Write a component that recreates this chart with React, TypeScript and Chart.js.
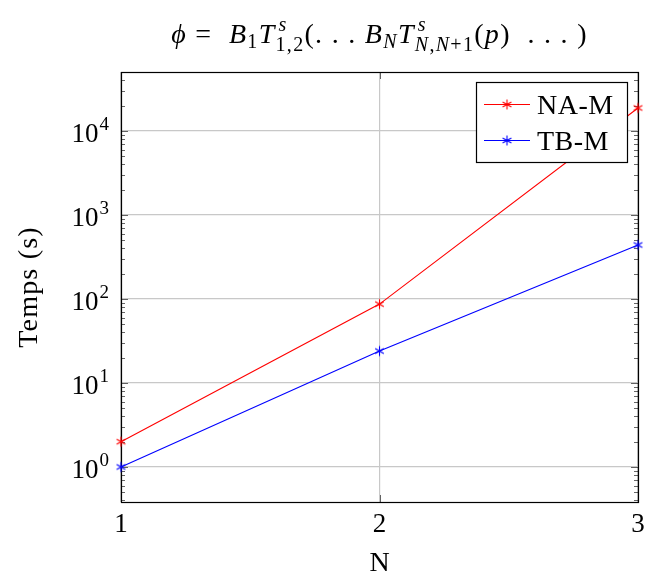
import React, { useEffect, useRef } from 'react';
import { Chart, registerables } from 'chart.js';
Chart.register(...registerables);

// ---- data ----
const N_VALUES = [1, 2, 3];
const NAM_TIMES = [2.0, 87, 18800];
const TBM_TIMES = [1.0, 24, 440];
const SERIES_LABELS = ['NA-M', 'TB-M'];
const SERIES_COLORS = ['#ff0000', '#0000ff'];
const X_TICKS = [1, 2, 3];
const Y_DECADES = [-1, 0, 1, 2, 3, 4];
const Y_MIN = 0.383;
const Y_MAX = 50400;
const X_TITLE = 'N';
const Y_TITLE = 'Temps (s)';

const FONT = '"Liberation Serif", "Times New Roman", serif';
const L = 28;
const S = 20;
const f = (size: number, italic?: boolean) => `${italic ? 'italic ' : ''}${size}px ${FONT}`;

type Seg = { t: string; i?: boolean; sz?: number; dy?: number };
type Item = Seg | { sup: Seg[]; sub: Seg[]; dx?: number };

const TITLE: Item[] = [
  { t: 'ϕ', i: true },
  { t: ' = ' },
  { t: ' B', i: true }, { t: '1', sz: S, dy: 5 },
  { t: 'T', i: true }, { sup: [{ t: 's', i: true }], sub: [{ t: '1,2' }], dx: 3 },
  { t: '(. . . ' },
  { t: 'B', i: true }, { t: 'N', i: true, sz: S, dy: 5 },
  { t: 'T', i: true },
  { sup: [{ t: 's', i: true }], sub: [{ t: 'N', i: true }, { t: ',' }, { t: 'N', i: true }, { t: '+1' }], dx: 3 },
  { t: '(' }, { t: 'p', i: true }, { t: ')  . . . )' },
];

function setLS(ctx: any, v: string) { try { ctx.letterSpacing = v; } catch (e) { /* ignore */ } }

function segsWidth(ctx: CanvasRenderingContext2D, segs: Seg[]) {
  let w = 0;
  for (const s of segs) { ctx.font = f(s.sz || S, s.i); w += ctx.measureText(s.t).width; }
  return w;
}
function drawSegs(ctx: CanvasRenderingContext2D, segs: Seg[], x: number, y: number) {
  for (const s of segs) { ctx.font = f(s.sz || S, s.i); ctx.fillText(s.t, x, y); x += ctx.measureText(s.t).width; }
}
function itemWidth(ctx: CanvasRenderingContext2D, it: Item) {
  if ('sup' in it) return Math.max(segsWidth(ctx, it.sup) + (it.dx || 0), segsWidth(ctx, it.sub));
  ctx.font = f(it.sz || L, it.i);
  return ctx.measureText(it.t).width;
}

function makeStar(color: string) {
  const c = document.createElement('canvas');
  c.width = 13; c.height = 13;
  const g = c.getContext('2d')!;
  g.strokeStyle = color; g.lineWidth = 1.1;
  const r = 5, cx = 6.5, cy = 6.5;
  for (const a of [90, 30, 150]) {
    const rad = (a * Math.PI) / 180;
    g.beginPath();
    g.moveTo(cx - r * Math.cos(rad), cy - r * Math.sin(rad));
    g.lineTo(cx + r * Math.cos(rad), cy + r * Math.sin(rad));
    g.stroke();
  }
  return c;
}

const isDecade = (v: number) => Math.abs(Math.log10(v) - Math.round(Math.log10(v))) < 1e-9;

const customPlugin = {
  id: 'customDraw',
  beforeDatasetsDraw(chart: any) {
    const { ctx, chartArea: a } = chart;
    const xs = chart.scales.x, ys = chart.scales.y;
    ctx.save();
    ctx.strokeStyle = 'rgba(0,0,0,0.6)';
    ctx.lineWidth = 1;
    for (const t of ys.ticks) {
      const y = Math.round(ys.getPixelForValue(t.value)) + 0.5;
      const len = isDecade(t.value) ? 7 : 4;
      ctx.beginPath();
      ctx.moveTo(a.left, y); ctx.lineTo(a.left + len, y);
      ctx.moveTo(a.right, y); ctx.lineTo(a.right - len, y);
      ctx.stroke();
    }
    for (const t of xs.ticks) {
      const x = Math.round(xs.getPixelForValue(t.value)) + 0.5;
      ctx.beginPath();
      ctx.moveTo(x, a.bottom); ctx.lineTo(x, a.bottom - 7);
      ctx.moveTo(x, a.top); ctx.lineTo(x, a.top + 7);
      ctx.stroke();
    }
    ctx.strokeStyle = '#000';
    ctx.lineWidth = 1.2;
    ctx.strokeRect(a.left + 0.5, a.top + 0.5, a.right - a.left, a.bottom - a.top);
    ctx.restore();
  },
  afterDraw(chart: any) {
    const { ctx, chartArea: a } = chart;
    const xs = chart.scales.x, ys = chart.scales.y;
    ctx.save();
    ctx.fillStyle = '#000';
    ctx.textBaseline = 'alphabetic';
    // x tick labels
    ctx.textAlign = 'center';
    ctx.font = f(27);
    for (const t of xs.ticks) ctx.fillText(String(t.value), xs.getPixelForValue(t.value), a.bottom + 30);
    // y tick labels
    ctx.textAlign = 'left';
    for (const t of ys.ticks) {
      if (!isDecade(t.value)) continue;
      const e = String(Math.round(Math.log10(t.value)));
      const y = ys.getPixelForValue(t.value);
      ctx.font = f(27); const wb = ctx.measureText('10').width;
      ctx.font = f(19); const we = ctx.measureText(e).width;
      const x0 = a.left - 12 - wb - we - 1;
      ctx.font = f(27); ctx.fillText('10', x0, y + 11);
      ctx.font = f(19); ctx.fillText(e, x0 + wb + 1, y - 1);
    }
    // axis titles
    ctx.textAlign = 'center';
    ctx.font = f(28);
    ctx.fillText(X_TITLE, (a.left + a.right) / 2, a.bottom + 69);
    ctx.save();
    ctx.translate(37, (a.top + a.bottom) / 2);
    ctx.rotate(-Math.PI / 2);
    setLS(ctx, '1.2px');
    ctx.fillText(Y_TITLE, 0, 0);
    setLS(ctx, '0px');
    ctx.restore();
    // title
    ctx.textAlign = 'left';
    setLS(ctx, '1.3px');
    let total = 0;
    for (const it of TITLE) total += itemWidth(ctx, it);
    let x = (a.left + a.right) / 2 - total / 2;
    const by = 43;
    for (const it of TITLE) {
      if ('sup' in it) {
        drawSegs(ctx, it.sup, x + (it.dx || 0), by - 12);
        drawSegs(ctx, it.sub, x, by + 8);
      } else {
        ctx.font = f(it.sz || L, it.i);
        ctx.fillText(it.t, x, by + (it.dy || 0));
      }
      x += itemWidth(ctx, it);
    }
    setLS(ctx, '0px');
    // legend
    const lx = 476, ly = 82, lw = 151, lh = 80;
    ctx.fillStyle = '#fff';
    ctx.fillRect(lx, ly, lw, lh);
    ctx.strokeStyle = '#000';
    ctx.lineWidth = 1.2;
    ctx.strokeRect(lx + 0.5, ly + 0.5, lw, lh);
    chart.data.datasets.forEach((ds: any, i: number) => {
      const yy = ly + 22 + i * 36;
      ctx.strokeStyle = ds.borderColor;
      ctx.lineWidth = 1.1;
      ctx.beginPath(); ctx.moveTo(lx + 8, yy + 0.5); ctx.lineTo(lx + 54, yy + 0.5); ctx.stroke();
      const img = ds.pointStyle as HTMLCanvasElement;
      ctx.drawImage(img, lx + 31 - img.width / 2, yy + 0.5 - img.height / 2);
      ctx.fillStyle = '#000';
      ctx.font = f(28);
      ctx.textAlign = 'left';
      setLS(ctx, '0.5px');
      ctx.fillText(ds.label, lx + 61, yy + 10);
      setLS(ctx, '0px');
    });
    ctx.restore();
  },
};

export default function App() {
  const ref = useRef<HTMLCanvasElement>(null);
  useEffect(() => {
    if (!ref.current) return;
    const series = [NAM_TIMES, TBM_TIMES];
    const chart = new Chart(ref.current, {
      type: 'line',
      data: {
        datasets: series.map((vals, si) => ({
          label: SERIES_LABELS[si],
          data: N_VALUES.map((n, i) => ({ x: n, y: vals[i] })),
          borderColor: SERIES_COLORS[si],
          backgroundColor: SERIES_COLORS[si],
          borderWidth: 1.1,
          pointStyle: makeStar(SERIES_COLORS[si]) as any,
          pointRadius: 5,
          tension: 0,
          clip: false as any,
          fill: false,
        })),
      },
      options: {
        animation: false,
        responsive: false,
        events: [],
        layout: { padding: { left: 121, right: 8, top: 72, bottom: 71 } },
        plugins: { legend: { display: false }, title: { display: false }, tooltip: { enabled: false } },
        scales: {
          x: {
            type: 'linear',
            min: 1,
            max: 3,
            afterBuildTicks: (s: any) => { s.ticks = X_TICKS.map((v) => ({ value: v })); },
            afterFit: (s: any) => { s.height = 0; },
            ticks: { display: false },
            grid: { color: '#c8c8c8', lineWidth: 1.2, drawTicks: false },
            border: { display: false },
          },
          y: {
            type: 'logarithmic',
            min: Y_MIN,
            max: Y_MAX,
            afterBuildTicks: (s: any) => {
              const t: any[] = [];
              for (const d of Y_DECADES) for (let m = 1; m <= 9; m++) {
                const v = m * Math.pow(10, d);
                if (v >= Y_MIN && v <= Y_MAX) t.push({ value: v, major: m === 1 });
              }
              s.ticks = t;
            },
            afterFit: (s: any) => { s.width = 0; },
            ticks: { display: false },
            grid: {
              color: (c: any) => (c.tick && isDecade(c.tick.value) ? '#c8c8c8' : 'rgba(0,0,0,0)'),
              lineWidth: 1.2,
              drawTicks: false,
            },
            border: { display: false },
          },
        },
      },
      plugins: [customPlugin],
    } as any);
    return () => chart.destroy();
  }, []);
  return (
    <div style={{ position: 'absolute', left: 0, top: 0, width: 646, height: 573, background: '#fff' }}>
      <canvas ref={ref} width={646} height={573} style={{ display: 'block' }} />
    </div>
  );
}
